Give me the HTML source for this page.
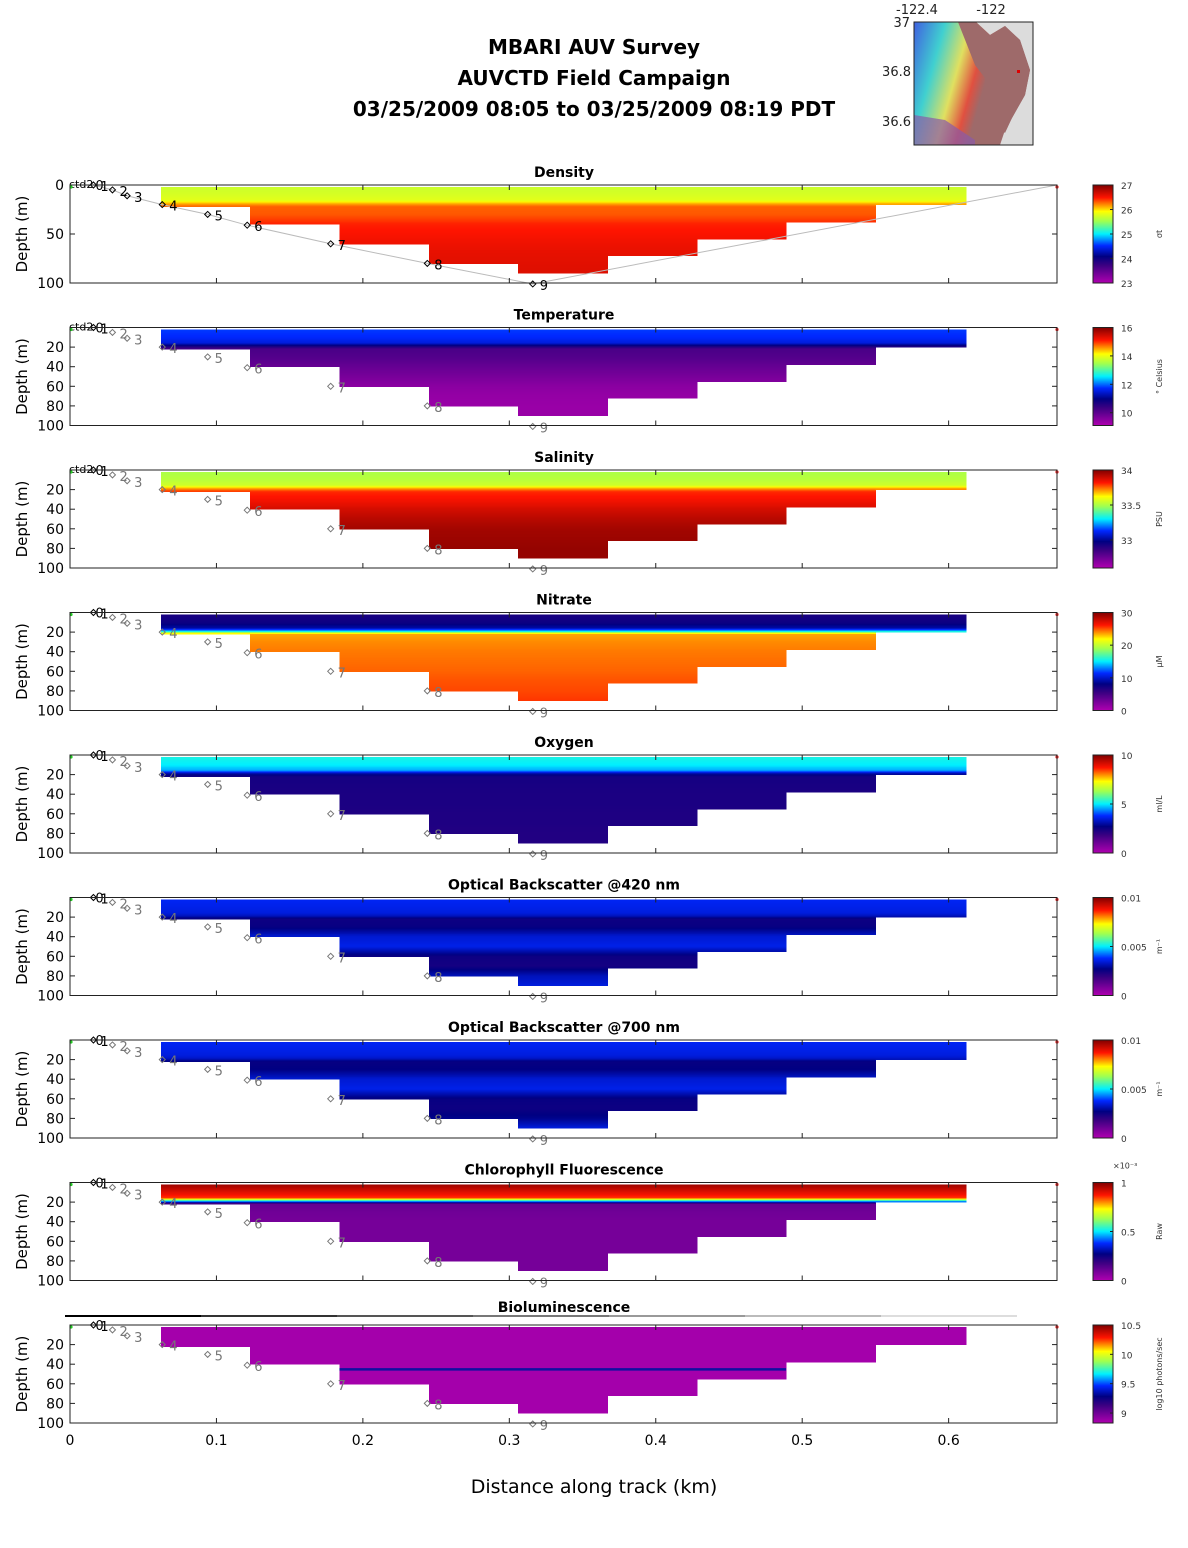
<!DOCTYPE html>
<html><head><meta charset="utf-8"><style>
body{margin:0;background:#fff;}
svg{display:block;font-family:"DejaVu Sans","Liberation Sans",sans-serif;}
</style></head><body>
<svg id="chart" width="1188" height="1548" viewBox="0 0 1188 1548" xmlns="http://www.w3.org/2000/svg">
<g font-weight="bold" font-size="20" text-anchor="middle" fill="#000">
<text x="594" y="54">MBARI AUV Survey</text>
<text x="594" y="85">AUVCTD Field Campaign</text>
<text x="594" y="116">03/25/2009 08:05  to 03/25/2009 08:19 PDT</text>
</g>
<g>
<defs>
<linearGradient id="mapg" x1="0" y1="0" x2="1" y2="0.3">
<stop offset="0" stop-color="#4060e0"/><stop offset="0.25" stop-color="#40d0d0"/><stop offset="0.45" stop-color="#e0e060"/><stop offset="0.6" stop-color="#e05040"/><stop offset="0.7" stop-color="#9e6a6a"/>
</linearGradient>
</defs>
<rect x="914" y="22" width="119" height="123" fill="#dcdcdc"/>
<path d="M914 22 L976 22 L990 35 L1005 26 L1020 40 L1030 70 L1025 95 L1012 118 L1005 130 L1000 145 L914 145 Z" fill="url(#mapg)"/>
<path d="M958 22 L976 22 L990 35 L1005 26 L1020 40 L1030 70 L1025 95 L1012 118 L1005 133 L990 118 L985 95 L985 78 L975 65 Z" fill="#9e6a6a"/>
<path d="M914 115 L945 120 L975 140 L975 145 L914 145 Z" fill="#8a5aa8" opacity="0.7"/>
<rect x="914" y="22" width="119" height="123" fill="none" stroke="#222" stroke-width="1"/>
<rect x="1017" y="70" width="3" height="3" fill="#d00"/>
<text x="917" y="14" font-size="13" fill="#222" text-anchor="middle">-122.4</text>
<text x="991" y="14" font-size="13" fill="#222" text-anchor="middle">-122</text>
<text x="910" y="27" font-size="13" fill="#222" text-anchor="end">37</text>
<text x="911" y="76" font-size="13" fill="#222" text-anchor="end">36.8</text>
<text x="911" y="126" font-size="13" fill="#222" text-anchor="end">36.6</text>
</g>
<g id="panels"></g>
<text x="594" y="1493" font-size="19" text-anchor="middle">Distance along track (km)</text>
</svg>
<script>
// ---- data ----
const colEdges = [0.062,0.123,0.184,0.245,0.306,0.367,0.428,0.489,0.550,0.612];
const colBottom = [22,40,60,80,90,72,55,38,20];
const topDepth = 2;
const stationKm = [0.016,0.029,0.039,0.063,0.094,0.121,0.178,0.244,0.316];
const stationDepth = [0,5,11,20,30,41,60,80,101];
const stationLabels = ["1","2","3","4","5","6","7","8","9"];
const xTicks = [0,0.1,0.2,0.3,0.4,0.5,0.6];
const profileDepths = [2,10,16,19,22,30,40,50,60,70,80,90];
const panelTitles = ["Density","Temperature","Salinity","Nitrate","Oxygen","Optical Backscatter @420 nm","Optical Backscatter @700 nm","Chlorophyll Fluorescence","Bioluminescence"];
const densityVals = [25.7,25.75,25.8,26.1,26.3,26.32,26.45,26.5,26.55,26.58,26.6,26.62];
const temperatureVals = [11.8,11.7,11.5,10.8,10.2,10.1,9.9,9.7,9.5,9.4,9.35,9.35];
const salinityVals = [33.5,33.52,33.55,33.7,33.8,33.83,33.88,33.92,33.95,33.96,33.97,33.97];
const nitrateVals = [7,7.5,9,14,23.5,24,24.3,24.5,24.7,25,25.2,25.5];
const oxygenVals = [5.2,5.0,4.6,3.0,2.4,2.35,2.3,2.3,2.25,2.25,2.2,2.2];
const obs420Vals = [0.0037,0.0036,0.0035,0.0032,0.0025,0.0026,0.0034,0.0036,0.0025,0.0024,0.0032,0.0035];
const obs700Vals = [0.0037,0.0036,0.0035,0.0033,0.0026,0.0027,0.0034,0.0036,0.0026,0.0025,0.0028,0.0035];
const chlVals = [0.97,0.9,0.85,0.5,0.12,0.1,0.09,0.09,0.09,0.09,0.09,0.09];
const biolumVals = [8.86,8.86,8.86,8.86,8.86,8.86,8.86,8.86,8.86,8.86,8.86,8.86];
const panelValues = [densityVals,temperatureVals,salinityVals,nitrateVals,oxygenVals,obs420Vals,obs700Vals,chlVals,biolumVals];
const cMin = [23,9.1,32.6,0,0,0,0,0,8.83];
const cMax = [27,16,34,30,10,0.01,0.01,1,10.5];
const cbTicks = [[27,26,25,24,23],[16,14,12,10],[34,33.5,33],[30,20,10,0],[10,5,0],[0.01,0.005,0],[0.01,0.005,0],[1,0.5,0],[10.5,10,9.5,9]];
const cbUnits = ["σt","° Celsius","PSU","μM","ml/L","m⁻¹","m⁻¹","Raw","log10 photons/sec"];
const densityYTicks = [0,50,100];
const otherYTicks = [20,40,60,80,100];

// ---- layout ----
const X0=70, X1=1057, KM1=0.674;
const PH=98, P0=185, PSTEP=142.5, DMAX=100;
const CBX=1093, CBW=20;
const NS="http://www.w3.org/2000/svg";
const xs = km => X0 + km/KM1*(X1-X0);
function el(tag, attrs, parent){const e=document.createElementNS(NS,tag);for(const k in attrs)e.setAttribute(k,attrs[k]);parent.appendChild(e);return e;}
const stops=[[0,[176,0,176]],[0.18,[60,0,130]],[0.27,[0,0,130]],[0.38,[0,40,255]],[0.5,[0,240,255]],[0.63,[160,255,80]],[0.73,[255,255,0]],[0.87,[255,20,0]],[1,[128,0,0]]];
function cmap(t){t=Math.max(0,Math.min(1,t));for(let i=1;i<stops.length;i++){if(t<=stops[i][0]){const a=stops[i-1],b=stops[i],f=(t-a[0])/(b[0]-a[0]);const c=a[1].map((v,j)=>Math.round(v+(b[1][j]-v)*f));return `rgb(${c[0]},${c[1]},${c[2]})`;}}return 'rgb(128,0,0)';}
function valAt(vals,d){if(d<=profileDepths[0])return vals[0];for(let i=1;i<profileDepths.length;i++){if(d<=profileDepths[i]){const f=(d-profileDepths[i-1])/(profileDepths[i]-profileDepths[i-1]);return vals[i-1]+(vals[i]-vals[i-1])*f;}}return vals[vals.length-1];}

const root=document.getElementById('panels');
panelTitles.forEach((title,p)=>{
  const top=P0+p*PSTEP;
  const ys=d=>top+d/DMAX*PH;
  const g=el('g',{},root);
  
  
  const t=el('text',{x:564,y:top-(p===8?13:8),'font-size':14,'font-weight':'bold','text-anchor':'middle'},g);
  t.textContent=title;
  
  
  const vals=panelValues[p];
  const cells=el('g',{'shape-rendering':'crispEdges'},g);
  
  
  for(let c=0;c<colBottom.length;c++){
    const xa=xs(colEdges[c]), xb=xs(colEdges[c+1]);
    for(let d=topDepth; d<colBottom[c]; d+=1){
      const d2=Math.min(d+1,colBottom[c]);
      const v=valAt(vals,d+0.5);
      const r=el('rect',{x:xa,y:ys(d),width:xb-xa+0.5,height:ys(d2)-ys(d)+0.5,fill:cmap((v-cMin[p])/(cMax[p]-cMin[p]))},cells);
      
      
    }
  }
  if(p===8){
    const ln=el('rect',{x:xs(0.184),y:ys(44),width:xs(0.489)-xs(0.184),height:2.5,fill:'#1010a0'},g);
    
    
    const shades=['#000','#333','#555','#777','#999','#bbb','#ddd'];
    shades.forEach((s,i)=>{const r=el('rect',{x:65+i*136,y:top-10,width:136,height:2,fill:s},g);
      
      });
  }
  if(p===0){
    let pts=stationKm.map((k,i)=>xs(k)+','+ys(stationDepth[i])).join(' ')+' '+xs(KM1)+','+ys(0);
    const pl=el('polyline',{points:xs(0)+','+ys(0)+' '+pts,fill:'none',stroke:'#bbb','stroke-width':1},g);
    
    
  }
  stationKm.forEach((k,i)=>{
    const x=xs(k), y=ys(stationDepth[i]);
    const col=(p===0||i===0)?'#000':'#777';
    const sg=el('g',{},g);
    
    
    el('path',{d:`M${x-3} ${y} L${x} ${y-3} L${x+3} ${y} L${x} ${y+3} Z`,fill:'none',stroke:col,'stroke-width':1},sg);
    const tx=el('text',{x:x+7,y:y+6,'font-size':13,fill:col},sg);
    tx.textContent=stationLabels[i];
    if(i===0){const t0=el('text',{x:x+2,y:y+5,'font-size':13,fill:col},sg);t0.textContent='0';}
  });
  if(p<3){const c=el('text',{x:69,y:top+3,'font-size':11,fill:'#000'},g);c.textContent='ctd2';
    }
  el('circle',{cx:X0+1,cy:top+2,r:1.6,fill:'#2c2'},g);
  el('circle',{cx:X1,cy:top+2,r:1.6,fill:'#e22'},g);
  const fr=el('rect',{x:X0,y:top,width:X1-X0,height:PH,fill:'none',stroke:'#222','stroke-width':1},g);
  
  
  xTicks.forEach(v=>{const x=xs(v);
    el('line',{x1:x,y1:top,x2:x,y2:top+5,stroke:'#222'},g);
    el('line',{x1:x,y1:top+PH,x2:x,y2:top+PH-5,stroke:'#222'},g);
    if(p===8){const tl=el('text',{x:x,y:top+PH+22,'font-size':14,'text-anchor':'middle'},g);tl.textContent=String(v);
      }
  });
  const yt=p===0?densityYTicks:otherYTicks;
  yt.forEach(v=>{const y=ys(v);
    el('line',{x1:X0,y1:y,x2:X0+5,y2:y,stroke:'#222'},g);
    el('line',{x1:X1,y1:y,x2:X1-5,y2:y,stroke:'#222'},g);
    const tl=el('text',{x:X0-6,y:y+5,'font-size':14,'text-anchor':'end'},g);tl.textContent=String(v);
    
  });
  const yl=el('text',{x:27,y:top+PH/2,'font-size':15,'text-anchor':'middle',transform:`rotate(-90 27 ${top+PH/2})`},g);
  yl.textContent='Depth (m)';
  
  
  const cb=el('g',{},g);
  
  
  for(let i=0;i<PH;i++){el('rect',{x:CBX,y:top+i,width:CBW,height:1.3,fill:cmap(1-(i+0.5)/PH)},cb);}
  el('rect',{x:CBX,y:top,width:CBW,height:PH,fill:'none',stroke:'#222'},cb);
  cbTicks[p].forEach(v=>{const y=top+(cMax[p]-v)/(cMax[p]-cMin[p])*PH;
    el('line',{x1:CBX+CBW,y1:y,x2:CBX+CBW-3,y2:y,stroke:'#222'},cb);
    const tl=el('text',{x:CBX+CBW+8,y:y+4,'font-size':9,fill:'#333'},cb);tl.textContent=String(v);
  });
  const ul=el('text',{x:1162,y:top+PH/2,'font-size':8,fill:'#333','text-anchor':'middle',transform:`rotate(-90 1162 ${top+PH/2})`},cb);
  ul.textContent=cbUnits[p];
  if(p===7){const m=el('text',{x:1113,y:top-14,'font-size':8,fill:'#333'},cb);m.textContent='×10⁻³';}
});
</script>
</body></html>
